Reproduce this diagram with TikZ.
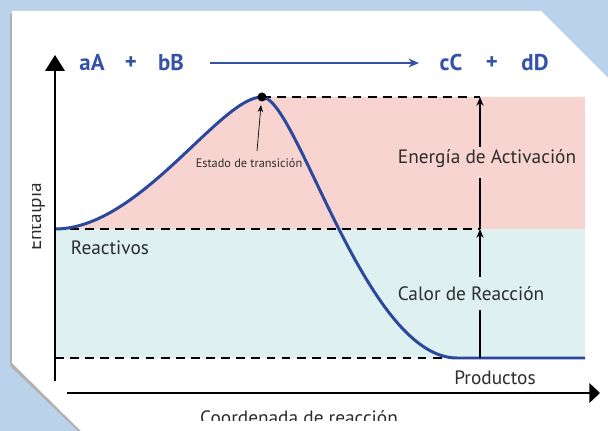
\documentclass[tikz,border=0pt]{standalone}
\usepackage{fontspec}
\setmainfont{PT Sans}
\usetikzlibrary{arrows.meta}
\definecolor{slideblue}{RGB}{186,211,235}
\definecolor{curveblue}{RGB}{42,72,158}
\definecolor{eqblue}{RGB}{52,82,168}
\definecolor{pinkarea}{RGB}{248,212,208}
\definecolor{cyanarea}{RGB}{222,240,240}
\definecolor{textgray}{RGB}{45,45,45}

\begin{document}
\begin{tikzpicture}[x=0.02cm, y=-0.02cm,
        lbl/.style = {text=textgray, inner sep=0pt, font=\fontsize{11}{13}\selectfont},
        eqn/.style = {text=eqblue, inner sep=0pt, font=\fontsize{13}{15}\selectfont\bfseries},
        dashline/.style = {draw=black, line width=1.2pt, dash pattern=on 5pt off 3.6pt},
        axisline/.style = {draw=black, line width=1.2pt, -{Triangle[length=9pt,width=11pt]}},
        gaparrow/.style = {draw=black, line width=0.9pt, -{Stealth[length=5pt,width=4pt]}},
        curve/.style = {draw=curveblue, line width=1.7pt}]
    \useasboundingbox (0,0) rectangle (608,431);
    \clip (0,0) rectangle (608,431);

    % slide and panel
    \fill[slideblue] (0,0) rectangle (608,431);
    \fill[black!30] (10,14) -- (300,14) -- (300,431) -- (78,431) -- (10,366) -- cycle;
    \fill[white] (12,11) -- (541,11) -- (608,78) -- (608,431) -- (81,431) -- (12,363) -- cycle;

    % areas
    \fill[cyanarea] (55,229) rectangle (585,358);
    \fill[pinkarea] (55,229) .. controls (140,229) and (220,97) .. (262,97) -- (585,97) -- (585,229) -- cycle;

    % levels
    \coordinate (tspeak) at (262,97);
    \coordinate (reacleft) at (55,229);
    \coordinate (prodleft) at (55,358);
    \coordinate (tslvl) at (480,97);
    \coordinate (reaclvl) at (480,229);
    \coordinate (prodlvl) at (480,358);
    \draw[dashline] (tspeak) -- (tslvl);
    \draw[dashline] (reacleft) -- (reaclvl);
    \draw[dashline] (prodleft) -- (460,358);

    % reaction curve
    \draw[curve] (reacleft) .. controls (140,229) and (220,97) .. (tspeak)
        .. controls (297,97) and (365,358) .. (457,358) -- (585,358);
    \fill (tspeak) circle (4.5);

    % labels
    \node[lbl] (activ) at (487,159) {Energía de Activación};
    \node[lbl] (calor) at (471,294) {Calor de Reacción};
    \node[lbl] (reac) at (110,248) {Reactivos};
    \node[lbl] (prod) at (495,378) {Productos};
    \node[lbl, font=\fontsize{7}{8}\selectfont] (estado) at (249,163) {Estado de transición};
    \coordinate (tsfoot) at (257,151);
    \coordinate (tstip) at (261,105);
    \draw[draw=black, line width=0.4pt, -{Stealth[length=4pt,width=3pt]}] (tsfoot) -- (tstip);

    % energy arrows
    \draw[draw=black, line width=0.9pt] (prodlvl) -- (prodlvl |- 0,310);
    \draw[gaparrow] (prodlvl |- 0,277) -- (reaclvl);
    \draw[draw=black, line width=0.9pt] (reaclvl) -- (reaclvl |- 0,178);
    \draw[gaparrow] (reaclvl |- 0,147) -- (tslvl);

    % axes
    \coordinate (origin) at (55,381);
    \coordinate (ytop) at (55,55);
    \coordinate (xleft) at (67,393);
    \coordinate (xright) at (600,393);
    \draw[axisline] (origin) -- (ytop);
    \draw[axisline, -{Triangle[length=6pt,width=11pt]}] (xleft) -- (xright);
    \begin{scope}
        \clip (32,150) rectangle (70,290);
        \node[lbl, rotate=90, anchor=base] (ylab) at (41,217) {Entalpía};
    \end{scope}
    \begin{scope}
        \clip (150,400) rectangle (450,421);
        \node[lbl, anchor=base] (xlab) at (299,425) {Coordenada de reacción};
    \end{scope}

    % reaction equation
    \node[eqn] (aA) at (92,63) {aA};
    \node[eqn] (plus1) at (131,63) {+};
    \node[eqn] (bB) at (171,63) {bB};
    \node[eqn] (cC) at (451,63) {cC};
    \node[eqn] (plus2) at (492,63) {+};
    \node[eqn] (dD) at (535,63) {dD};
    \coordinate (eqstart) at (210,63);
    \coordinate (eqend) at (419,63);
    \draw[draw=eqblue, line width=0.9pt, -{Stealth[length=6pt,width=5pt]}] (eqstart) -- (eqend);
\end{tikzpicture}
\end{document}
